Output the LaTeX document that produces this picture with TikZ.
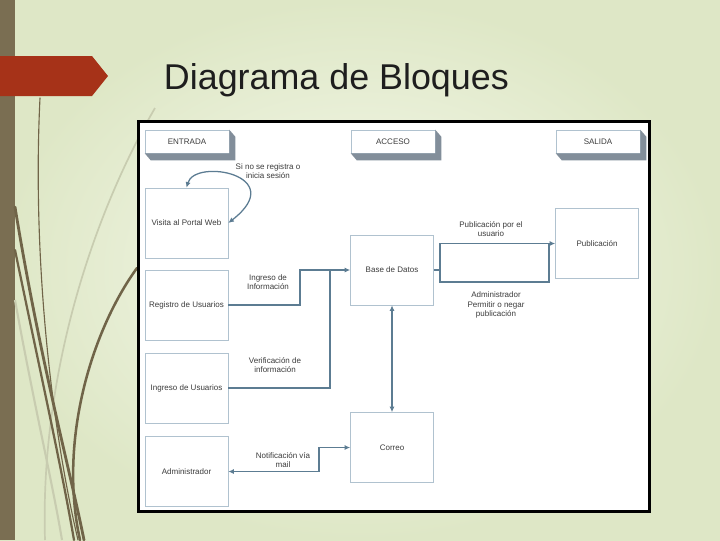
\documentclass[tikz,border=0pt]{standalone}
\usepackage{fontspec}
\setmainfont{Liberation Sans}
\usetikzlibrary{arrows.meta}

\definecolor{bgmid}{RGB}{247,250,238}
\definecolor{bgedge}{RGB}{222,231,198}
\definecolor{barcol}{RGB}{122,110,82}
\definecolor{tagred}{RGB}{166,50,24}
\definecolor{grass}{RGB}{112,100,72}
\definecolor{grasslight}{RGB}{200,204,176}
\definecolor{boxline}{RGB}{176,194,207}
\definecolor{wirecol}{RGB}{92,124,146}
\definecolor{shade3d}{RGB}{130,142,154}
\definecolor{txt}{RGB}{60,60,60}

\begin{document}
\begin{tikzpicture}[x=0.025cm, y=-0.025cm,
    box/.style={draw=boxline, fill=white, minimum width=2.075cm, minimum height=1.75cm, inner sep=1pt,
                font=\fontsize{5.7}{6.8}\selectfont, text=txt},
    hdr/.style={box, minimum width=2.1cm, minimum height=0.575cm},
    lbl/.style={font=\fontsize{5.7}{6.8}\selectfont, text=txt, align=center, inner sep=0pt},
    wire/.style={draw=wirecol, line width=0.9pt},
    conn/.style={wire, -{Latex[length=4pt,width=3.6pt]}},
    twoway/.style={wire, {Latex[length=4pt,width=3.6pt]}-{Latex[length=4pt,width=3.6pt]}},
    grassline/.style={draw=grass, line cap=round}]
    \useasboundingbox (0,0) rectangle (720,540);

    % Slide background
    \shade[inner color=bgmid, outer color=bgedge] (0,0) rectangle (720,540);
    \fill[barcol] (0,0) rectangle (15,540);
    \fill[tagred] (0,56) -- (92,56) -- (108,76) -- (92,96) -- (0,96) -- cycle;
    \node[anchor=base west, font=\fontsize{25.5}{30}\selectfont, text={rgb,255:red,30;green,30;blue,30}] (titulo) at (159,89) {Diagrama de Bloques};

    % Grass strokes on the left
    \draw[grasslight, line width=1.2pt] (155,108) .. controls (90,220) and (40,380) .. (45,540);
    \draw[grasslight, line width=1.5pt] (15,300) .. controls (35,410) and (52,480) .. (62,540);
    \draw[grassline, line width=0.8pt] (40,98) .. controls (32,260) and (52,430) .. (78,540);
    \draw[grassline, line width=2pt] (15,207) .. controls (40,360) and (70,470) .. (84,540);
    \draw[grassline, line width=1.6pt] (15,250) .. controls (42,380) and (62,470) .. (74,540);
    \draw[grassline, line width=1.8pt] (137,268) .. controls (92,330) and (58,440) .. (80,540);

    % Frame
    \draw[line width=2.2pt, fill=white] (138.5,121.5) rectangle (649.5,511.5);

    % Headers
    \node[hdr] (entrada) at (187,141.5) {ENTRADA};
    \node[hdr] (acceso) at (393,141.5) {ACCESO};
    \node[hdr] (salida) at (598,141.5) {SALIDA};
    \foreach \h in {entrada,acceso,salida}
        \fill[shade3d] (\h.north east) -- ++(6,7) -- ([shift={(6,7)}]\h.south east)
            -- ([shift={(6,7)}]\h.south west) -- (\h.south west) -- (\h.south east) -- cycle;

    % Blocks
    \node[box] (visita) at (186.5,223) {Visita al Portal Web};
    \node[box] (registro) at (186.5,305) {Registro de Usuarios};
    \node[box] (ingreso) at (186.5,388) {Ingreso de Usuarios};
    \node[box] (admin) at (186.5,471.5) {Administrador};
    \node[box] (base) at (392,270) {Base de Datos};
    \node[box] (correo) at (392,447.5) {Correo};
    \node[box] (publi) at (597,243.5) {Publicación};

    \coordinate (junta) at (330,270);
    \coordinate (reparto) at (440,270);

    % Connectors
    \draw[twoway] (visita.north) .. controls (195,158) and (290,175) .. (visita.east);
    \draw[conn] (registro.east) -- (300,305) |- (base.west);
    \draw[wire] (ingreso.east) -| (junta);
    \draw[twoway] (base.south) -- (correo.north);
    \draw[twoway] (correo.west) -- (319,447.5) |- (admin.east);
    \draw[wire] (base.east) -- (reparto);
    \draw[conn] (reparto) |- (publi.west);
    \draw[wire] (reparto) |- (549,282) -- (549,243.5);

    % Labels
    \node[lbl] (l1) at (268,171) {Si no se registra o\\inicia sesión};
    \node[lbl] (l2) at (268,282) {Ingreso de\\Información};
    \node[lbl] (l3) at (275,365) {Verificación de\\información};
    \node[lbl] (l4) at (283,460) {Notificación vía\\mail};
    \node[lbl] (l5) at (491,229) {Publicación por el\\usuario};
    \node[lbl] (l6) at (496,305) {Administrador\\Permitir o negar\\publicación};
\end{tikzpicture}
\end{document}
